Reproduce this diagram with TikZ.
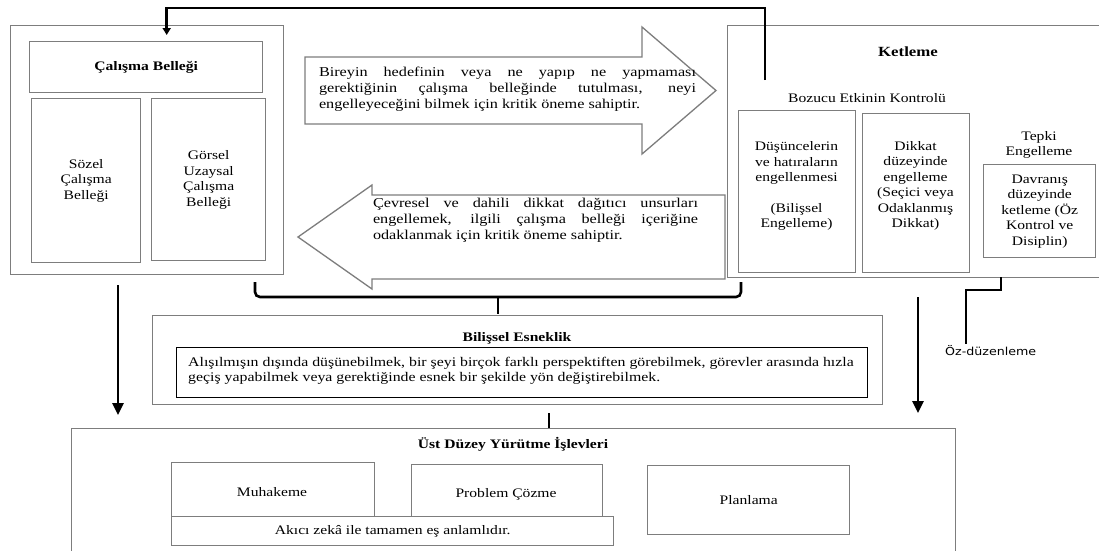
\documentclass[tikz,border=0pt]{standalone}
\usepackage{fontspec}
\setmainfont{Liberation Serif}
\newfontfamily\widefont{Liberation Serif}[FakeStretch=1.2]
\newfontfamily\ozfont{DejaVu Sans}[FakeStretch=1.15]
\usetikzlibrary{arrows.meta,calc}
\definecolor{framegray}{RGB}{125,125,125}
% justified paragraphs without word splitting
\newcommand{\nosplit}{\hyphenpenalty10000 \exhyphenpenalty10000 \lefthyphenmin60 \hbadness10000 }
\begin{document}
\begin{tikzpicture}[x=1pt,y=-1pt,
  frame/.style={draw=framegray, line width=1.4pt, inner sep=0pt, anchor=north west, align=center,
    font=\widefont\fontsize{13}{15.5}\selectfont},
  inbox/.style={draw=black, line width=1pt, inner sep=0pt, anchor=north west},
  txt/.style={font=\widefont\fontsize{13}{15.5}\selectfont, align=center, inner sep=0pt},
  ttl/.style={font=\widefont\bfseries\fontsize{13}{15.5}\selectfont, inner sep=0pt},
  arrtxt/.style={font=\widefont\fontsize{13.5}{16}\selectfont\nosplit, align=justify, inner sep=0pt},
  conn/.style={draw=black, line width=2.6pt},
  bigtip/.style={-{Triangle[width=11pt,length=12pt]}},
  smalltip/.style={-{Triangle[width=8pt,length=7pt]}},
  blockarrow/.style={draw=framegray, line width=1.3pt, fill=white}]

\fill[white] (0,0) rectangle (1099,550);
\useasboundingbox (0,0) rectangle (1099,550);

% ---- working memory ----
\node[frame, minimum width=273pt, minimum height=249pt] (wm) at (10,25) {};
\node[frame, minimum width=233pt, minimum height=51pt,
      font=\widefont\bfseries\fontsize{13}{15.5}\selectfont] (cb) at (29,41) {Çalışma Belleği};
\node[frame, minimum width=109pt, minimum height=164pt] (sozel) at (31,98) {Sözel\\Çalışma\\Belleği};
\node[frame, minimum width=114pt, minimum height=162pt] (gorsel) at (151,98) {Görsel\\Uzaysal\\Çalışma\\Belleği};

% ---- inhibition ----
\node[frame, minimum width=377pt, minimum height=252pt] (ket) at (727,25) {};
\node[ttl, font=\widefont\bfseries\fontsize{14}{16}\selectfont] (kettl) at (908,52) {Ketleme};
\node[txt] (bozucu) at (867,98) {Bozucu Etkinin Kontrolü};
\node[frame, minimum width=117pt, minimum height=162pt] (dus) at (738,110) {};
\node[txt] (dustxt) at (796.5,186) {Düşüncelerin\\ve hatıraların\\engellenmesi\\[15pt](Bilişsel\\Engelleme)};
\node[frame, minimum width=107pt, minimum height=159pt] (dik) at (862,113) {};
\node[txt] (diktxt) at (915.5,186) {Dikkat\\düzeyinde\\engelleme\\(Seçici veya\\Odaklanmış\\Dikkat)};
\node[txt] (tepki) at (1039,145) {Tepki\\Engelleme};
\node[frame, minimum width=112pt, minimum height=93pt] (dav) at (983,164) {Davranış\\düzeyinde\\ketleme (Öz\\Kontrol ve\\Disiplin)};

% ---- block arrows between the two panels ----
\draw[blockarrow] (305,57) -- (642,57) -- (642,27) -- (716,90.5) -- (642,154) -- (642,124) -- (305,124) -- cycle;
\node[arrtxt, text width=377pt] (rtxt) at (507.5,89) {Bireyin hedefinin veya ne yapıp ne yapmaması gerektiğinin çalışma belleğinde tutulması, neyi engelleyeceğini bilmek için kritik öneme sahiptir.};
\draw[blockarrow] (725,195) -- (372,195) -- (372,185) -- (298,237) -- (372,289) -- (372,279) -- (725,279) -- cycle;
\node[arrtxt, text width=325pt] (ltxt) at (535.5,220) {Çevresel ve dahili dikkat dağıtıcı unsurları engellemek, ilgili çalışma belleği içeriğine odaklanmak için kritik öneme sahiptir.};

% ---- cognitive flexibility ----
\node[frame, minimum width=730pt, minimum height=89pt] (bil) at (152,315) {};
\node[ttl] (biltl) at (517,338) {Bilişsel Esneklik};
\node[inbox, minimum width=691pt, minimum height=50pt] (bilin) at (176,347) {};
\node[font=\widefont\fontsize{13.2}{14.5}\selectfont, align=left, inner sep=0pt, anchor=west] (biltxt) at (188,371)
  {Alışılmışın dışında düşünebilmek, bir şeyi birçok farklı perspektiften görebilmek, görevler arasında hızla\\
   geçiş yapabilmek veya gerektiğinde esnek bir şekilde yön değiştirebilmek.};

% ---- higher-level executive functions ----
\node[frame, minimum width=884pt, minimum height=130pt] (ust) at (71,428) {};
\node[ttl] (usttl) at (513,444) {Üst Düzey Yürütme İşlevleri};
\node[frame, minimum width=203pt, minimum height=68pt] (muh) at (171,462) {};
\node[txt] (muhtxt) at (272,492) {Muhakeme};
\node[frame, minimum width=191pt, minimum height=66pt] (prob) at (411,464) {};
\node[txt] (probtxt) at (506,494) {Problem Çözme};
\node[frame, minimum width=202pt, minimum height=69pt] (plan) at (647,465) {Planlama};
\node[frame, fill=white, minimum width=442pt, minimum height=29pt] (akici) at (171,516) {Akıcı zekâ ile tamamen eş anlamlıdır.};

% ---- connectors ----
\coordinate (kstart) at (765,80);
\draw[conn, smalltip, shorten >=6pt] (kstart) -- (765,8) -| ($(cb.north)+(20.5,0)$);

\coordinate (bl) at (255,282);
\coordinate (br) at (741,282);
\coordinate (bm) at (498,297);
\draw[conn, rounded corners=5pt] (bl) -- (255,297) -- (741,297) -- (br);
\draw[conn, shorten >=1pt] (bm) -- (bm |- bil.north);

\coordinate (lastart) at (118,285);
\draw[conn, bigtip, shorten >=13pt] (lastart) -- (lastart |- ust.north);
\coordinate (rastart) at (918,297);
\draw[conn, bigtip, shorten >=15pt] (rastart) -- (rastart |- ust.north);
\coordinate (tick) at (549,413);
\draw[conn] (tick) -- (tick |- ust.north);

\node[font=\ozfont\fontsize{11}{13}\selectfont, anchor=west, inner sep=0pt] (oz) at (945,351) {Öz-düzenleme};
\coordinate (ozstart) at (1001,277);
\coordinate (ozend) at (966,344);
\draw[conn] (ozstart) -- (1001,290) -| (ozend);
\end{tikzpicture}
\end{document}
